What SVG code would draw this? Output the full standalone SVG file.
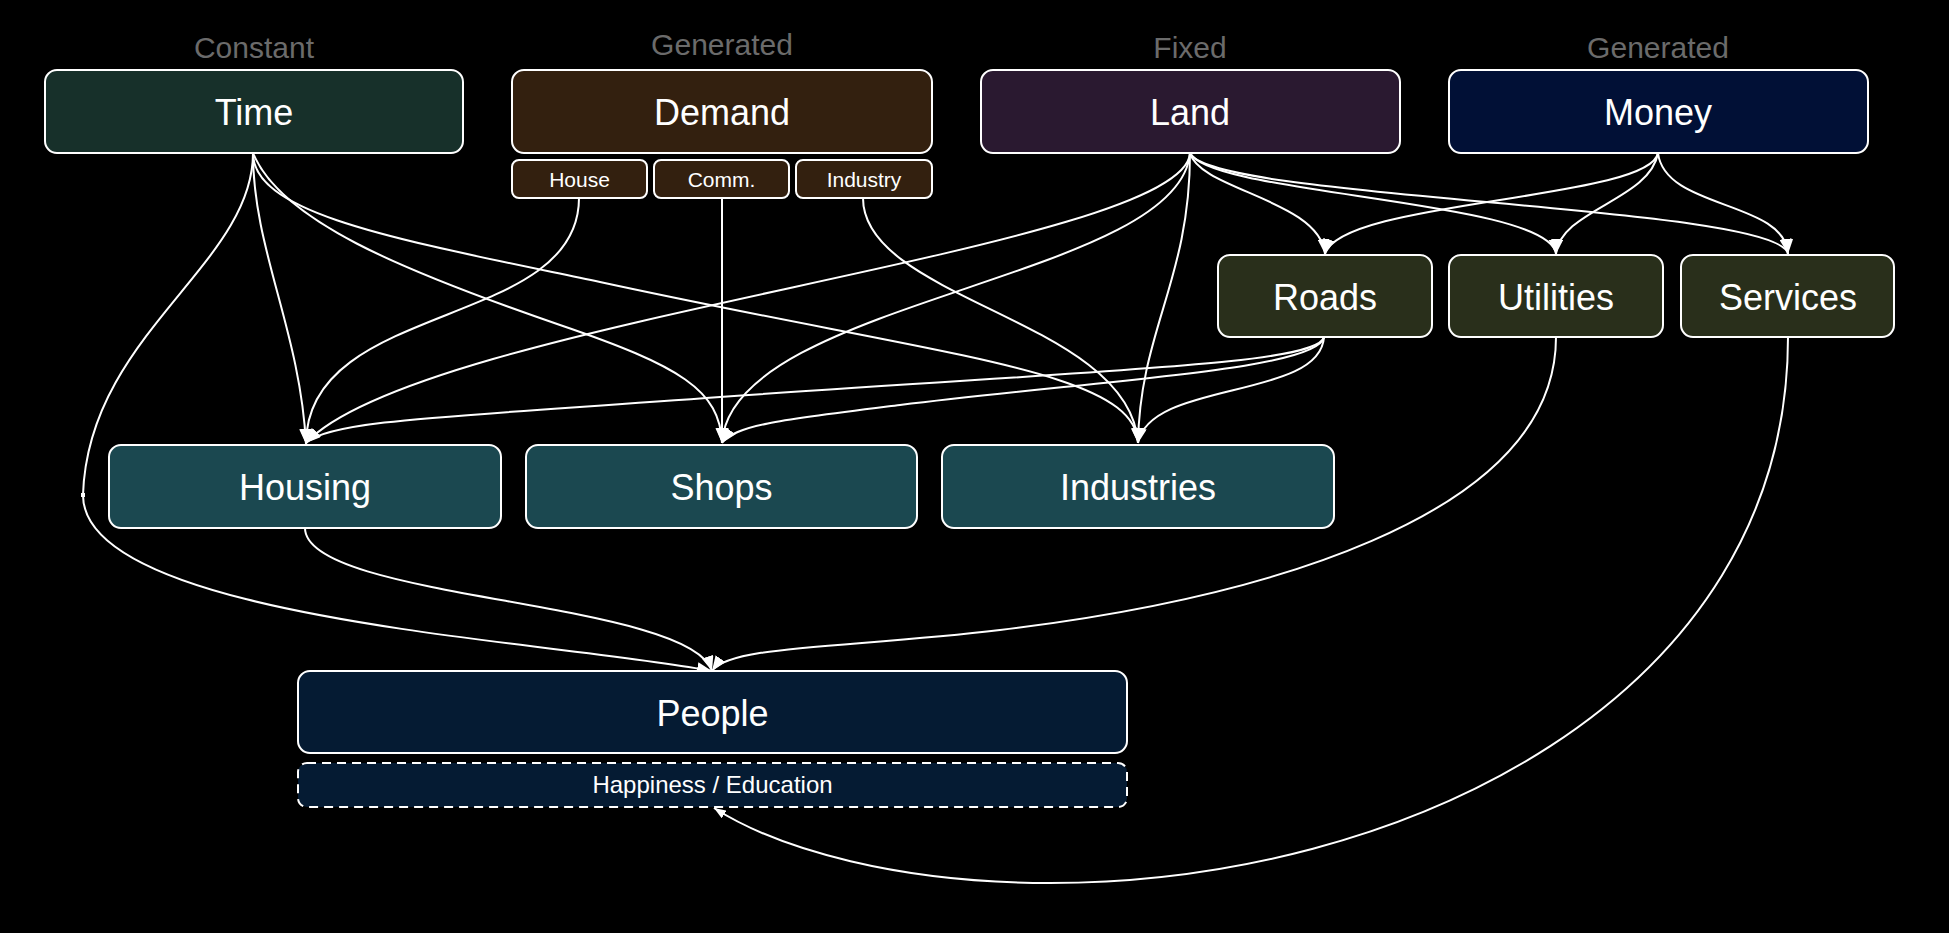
<svg xmlns="http://www.w3.org/2000/svg" width="1949" height="933" viewBox="0 0 1949 933">
<defs>
<style>
.bx{stroke:#ffffff;stroke-width:2}
.t{font-family:"Liberation Sans",Arial,sans-serif;fill:#ffffff;text-anchor:middle}
.big{font-size:36px}
.sm{font-size:21px}
.cap{font-family:"Liberation Sans",Arial,sans-serif;fill:#6b6b6b;text-anchor:middle;font-size:30px}
.e{fill:none;stroke:#ffffff;stroke-width:2}
</style>
<marker id="ah" markerWidth="15" markerHeight="12" refX="15" refY="6" orient="auto" markerUnits="userSpaceOnUse">
<path d="M0,0 L15,6 L0,12 z" fill="#ffffff"/>
</marker>
<marker id="ah2" markerWidth="12" markerHeight="9" refX="12" refY="4.5" orient="auto" markerUnits="userSpaceOnUse">
<path d="M0,0 L12,4.5 L0,9 z" fill="#ffffff"/>
</marker>
</defs>
<rect x="0" y="0" width="1949" height="933" fill="#000000"/>

<g id="connectors">
<path class="e" marker-end="url(#ah)" d="M253,153 C253,250 300,330 306,444"/>
<path class="e" d="M253,153 C253,265 88,335 83,495"/>
<path class="e" marker-end="url(#ah)" d="M83,495 C83,620 550,640 712,671"/>
<rect x="81" y="493" width="4" height="4" fill="#ffffff"/>
<path class="e" marker-end="url(#ah)" d="M253,153 C280,220 400,270 560,325 C680,366 720,390 722,443"/>
<path class="e" marker-end="url(#ah)" d="M253,153 C253,215 400,240 600,282 C950,358 1135,370 1138,443"/>
<path class="e" marker-end="url(#ah)" d="M579,198 C579,330 306,300 306,444"/>
<path class="e" marker-end="url(#ah)" d="M722,198 L722,443"/>
<path class="e" marker-end="url(#ah)" d="M863,198 C863,300 1130,320 1138,443"/>
<path class="e" marker-end="url(#ah)" d="M1190,153 C1185,250 420,320 306,443"/>
<path class="e" marker-end="url(#ah)" d="M1190,153 C1180,280 730,300 722,443"/>
<path class="e" marker-end="url(#ah)" d="M1190,153 C1190,280 1140,330 1138,443"/>
<path class="e" marker-end="url(#ah)" d="M1190,153 C1200,190 1320,200 1325,254"/>
<path class="e" marker-end="url(#ah)" d="M1190,153 C1210,195 1550,200 1556,254"/>
<path class="e" marker-end="url(#ah)" d="M1190,153 C1210,200 1780,205 1788,254"/>
<path class="e" marker-end="url(#ah)" d="M1658,153 C1650,200 1340,200 1325,254"/>
<path class="e" marker-end="url(#ah)" d="M1658,153 C1650,200 1560,210 1556,254"/>
<path class="e" marker-end="url(#ah)" d="M1658,153 C1665,210 1785,200 1788,254"/>
<path class="e" marker-end="url(#ah)" d="M1324,337 C1318,365 1100,370 720,397 C450,417 330,420 306,443"/>
<path class="e" marker-end="url(#ah)" d="M1324,337 C1318,370 1100,380 900,405 C780,420 735,425 722,443"/>
<path class="e" marker-end="url(#ah)" d="M1324,337 C1320,400 1150,380 1138,443"/>
<path class="e" marker-end="url(#ah)" d="M305,528 C305,600 690,600 712,671"/>
<path class="e" marker-end="url(#ah)" d="M1556,337 C1556,520 1250,600 1000,630 C850,648 730,645 712,671"/>
<path class="e" marker-end="url(#ah2)" d="M1788,337 C1788,700 1400,883 1050,883 C900,883 780,850 714,808"/>
</g>

<text class="cap" x="254" y="58">Constant</text>
<text class="cap" x="722" y="55">Generated</text>
<text class="cap" x="1190" y="58">Fixed</text>
<text class="cap" x="1658" y="58">Generated</text>

<g id="time">
<rect class="bx" x="45" y="70" width="418" height="83" rx="12" fill="#17302a"/>
<text class="t big" x="254" y="125">Time</text>
</g>
<g id="demand">
<rect class="bx" x="512" y="70" width="420" height="83" rx="12" fill="#33200f"/>
<text class="t big" x="722" y="125">Demand</text>
</g>
<g id="demand-house">
<rect class="bx" x="512" y="160" width="135" height="38" rx="7" fill="#33200f"/>
<text class="t sm" x="579.5" y="187">House</text>
</g>
<g id="demand-comm">
<rect class="bx" x="654" y="160" width="135" height="38" rx="7" fill="#33200f"/>
<text class="t sm" x="721.5" y="187">Comm.</text>
</g>
<g id="demand-industry">
<rect class="bx" x="796" y="160" width="136" height="38" rx="7" fill="#33200f"/>
<text class="t sm" x="864" y="187">Industry</text>
</g>
<g id="land">
<rect class="bx" x="981" y="70" width="419" height="83" rx="12" fill="#2a1930"/>
<text class="t big" x="1190" y="125">Land</text>
</g>
<g id="money">
<rect class="bx" x="1449" y="70" width="419" height="83" rx="12" fill="#011036"/>
<text class="t big" x="1658" y="125">Money</text>
</g>
<g id="roads">
<rect class="bx" x="1218" y="255" width="214" height="82" rx="12" fill="#292f1b"/>
<text class="t big" x="1325" y="310">Roads</text>
</g>
<g id="utilities">
<rect class="bx" x="1449" y="255" width="214" height="82" rx="12" fill="#292f1b"/>
<text class="t big" x="1556" y="310">Utilities</text>
</g>
<g id="services">
<rect class="bx" x="1681" y="255" width="213" height="82" rx="12" fill="#292f1b"/>
<text class="t big" x="1788" y="310">Services</text>
</g>
<g id="housing">
<rect class="bx" x="109" y="445" width="392" height="83" rx="12" fill="#1b4850"/>
<text class="t big" x="305" y="500">Housing</text>
</g>
<g id="shops">
<rect class="bx" x="526" y="445" width="391" height="83" rx="12" fill="#1b4850"/>
<text class="t big" x="721.5" y="500">Shops</text>
</g>
<g id="industries">
<rect class="bx" x="942" y="445" width="392" height="83" rx="12" fill="#1b4850"/>
<text class="t big" x="1138" y="500">Industries</text>
</g>
<g id="people">
<rect class="bx" x="298" y="671" width="829" height="82" rx="12" fill="#051b33"/>
<text class="t big" x="712.5" y="726">People</text>
</g>
<g id="happiness">
<rect x="298" y="763" width="829" height="44" rx="9" fill="#051b33" stroke="#ffffff" stroke-width="2" stroke-dasharray="9,6"/>
<text class="t" style="font-size:24px" x="712.5" y="793">Happiness / Education</text>
</g>
</svg>
